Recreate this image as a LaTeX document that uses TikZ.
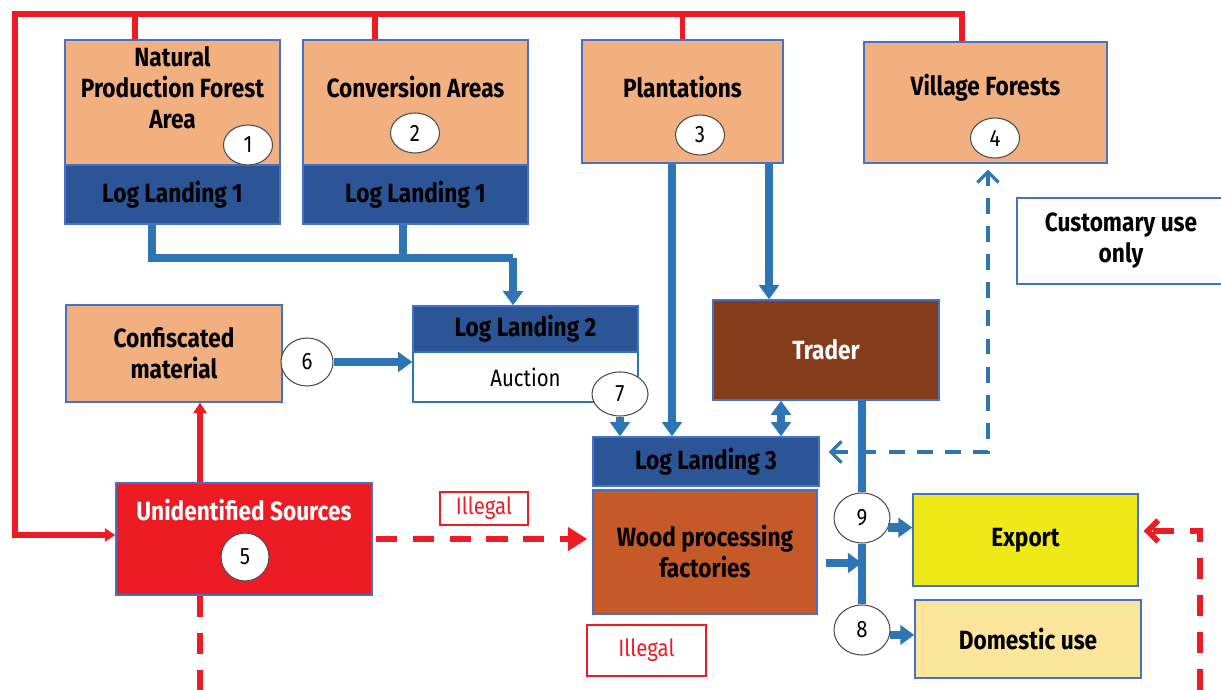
\documentclass[tikz,border=0pt]{standalone}
\usepackage{fontspec}
\setmainfont{Fira Sans}[FakeStretch=0.86]
\usetikzlibrary{shapes.geometric,arrows.meta}

\definecolor{srcfill}{RGB}{242,175,128}
\definecolor{landfill}{RGB}{43,85,151}
\definecolor{flowblue}{RGB}{46,117,182}
\definecolor{illred}{RGB}{237,28,36}
\definecolor{traderfill}{RGB}{132,60,26}
\definecolor{woodfill}{RGB}{197,90,40}
\definecolor{exportfill}{RGB}{240,233,26}
\definecolor{domfill}{RGB}{251,229,155}
\definecolor{edgeblue}{RGB}{68,114,196}

\newcommand{\lblfont}{\fontsize{15}{17.6}\selectfont\bfseries}
\newcommand{\numfont}{\fontsize{13.5}{15}\selectfont}

\begin{document}
\begin{tikzpicture}[
    srcbox/.style={draw=edgeblue,fill=srcfill,line width=0.8pt,align=center,font=\lblfont},
    landbox/.style={draw=edgeblue,fill=landfill,line width=0.8pt,font=\lblfont},
    plainbox/.style={draw=edgeblue,line width=0.8pt,align=center,font=\lblfont},
    title/.style={align=center,font=\lblfont,inner sep=0pt},
    num/.style={draw=black!70,fill=white,ellipse,line width=0.6pt,inner sep=0pt,minimum width=0.98cm,minimum height=0.8cm,font=\numfont},
    blueline/.style={draw=flowblue,line width=5pt},
    bluearrow/.style={blueline,-{Triangle[length=8pt,width=11pt]}},
    bluedash/.style={draw=flowblue,line width=1.8pt,dash pattern=on 9pt off 7pt},
    redline/.style={draw=illred,line width=3.2pt},
    reddash/.style={draw=illred,line width=3.2pt,dash pattern=on 12pt off 9pt},
    illegal/.style={draw=illred,line width=1pt,text=illred,font=\numfont,inner sep=0pt}
]
\useasboundingbox (0,0) rectangle (24.42,13.8);

% sources
\node[srcbox,minimum width=4.3cm,minimum height=2.5cm] (nat) at (3.45,11.75) {};
\node[landbox,minimum width=4.3cm,minimum height=1.18cm] (lla) at (3.45,9.91) {Log Landing 1};
\node[title] (natT) at (3.45,12.04) {Natural\\Production Forest\\Area};
\node[num] (n1) at (4.96,10.9) {1};

\node[srcbox,minimum width=4.5cm,minimum height=2.5cm] (conv) at (8.31,11.75) {};
\node[landbox,minimum width=4.5cm,minimum height=1.18cm] (llb) at (8.31,9.91) {Log Landing 1};
\node[title] (convT) at (8.31,12.06) {Conversion Areas};
\node[num] (n2) at (8.3,11.14) {2};

\node[srcbox,minimum width=4.02cm,minimum height=2.46cm] (plant) at (13.65,11.77) {};
\node[title] (plantT) at (13.65,12.06) {Plantations};
\node[num] (n3) at (14.0,11.1) {3};

\node[srcbox,minimum width=4.86cm,minimum height=2.42cm] (vil) at (19.71,11.75) {};
\node[title] (vilT) at (19.71,12.04) {Village Forests};
\node[num] (n4) at (19.9,11.04) {4};

\node[plainbox,minimum width=4.16cm,minimum height=1.72cm] (cust) at (22.42,8.98) {Customary use\\only};

% middle row
\node[srcbox,minimum width=4.32cm,minimum height=1.94cm] (conf) at (3.48,6.73) {Confiscated\\material};
\node[num,minimum width=1.04cm,minimum height=0.96cm] (n6) at (6.14,6.56) {6};
\node[landbox,minimum width=4.5cm,minimum height=0.92cm] (ll2) at (10.51,7.22) {Log Landing 2};
\node[draw=flowblue,fill=white,line width=0.8pt,minimum width=4.5cm,minimum height=1.0cm,font=\numfont] (auc) at (10.51,6.26) {Auction};
\node[num,minimum width=1.12cm,minimum height=0.88cm] (n7) at (12.4,5.92) {7};
\node[plainbox,fill=traderfill,text=white,minimum width=4.52cm,minimum height=2.0cm] (trader) at (16.52,6.8) {Trader};

% processing and use
\node[landbox,minimum width=4.52cm,minimum height=0.98cm] (ll3) at (14.12,4.57) {Log Landing 3};
\node[plainbox,fill=woodfill,minimum width=4.48cm,minimum height=2.48cm] (wood) at (14.1,2.76) {Wood processing\\factories};
\node[plainbox,fill=exportfill,minimum width=4.5cm,minimum height=1.84cm] (export) at (20.51,3.0) {Export};
\node[plainbox,fill=domfill,minimum width=4.52cm,minimum height=1.56cm] (dom) at (20.56,1.02) {Domestic use};
\node[num,minimum width=1.12cm,minimum height=1.0cm] (n9) at (17.24,3.44) {9};
\node[num,minimum width=1.12cm,minimum height=1.0cm] (n8) at (17.24,1.2) {8};

\node[plainbox,fill=illred,minimum width=5.12cm,minimum height=2.24cm] (unid) at (4.88,3.02) {};
\node[title,text=white] (unidT) at (4.88,3.6) {Unidentified Sources};
\node[num,circle,minimum size=0.96cm] (n5) at (4.9,2.66) {5};

\node[illegal,minimum width=1.76cm,minimum height=0.66cm] (ill1) at (9.68,3.63) {Illegal};
\node[illegal,minimum width=2.38cm,minimum height=1.02cm] (ill2) at (12.93,0.79) {Illegal};

\coordinate (topL) at (0.3,13.52);
\coordinate (join) at (10.26,8.64);
\coordinate (bot) at (0,0);
\coordinate (rbot) at (24.0,0);

% red supply lines
\draw[redline,-{Triangle[length=6pt,width=7.5pt]}] ([xshift=-0.47cm]vil.north) |- (topL) |- ([yshift=0.08cm]unid.west);
\draw[redline] ([xshift=-0.75cm]nat.north) -- ([xshift=-0.75cm]nat.north |- topL);
\draw[redline] ([xshift=-0.81cm]conv.north) -- ([xshift=-0.81cm]conv.north |- topL);
\draw[redline] (plant.north) -- (plant.north |- topL);
\draw[redline,-{Triangle[length=6pt,width=7.5pt]}] ([xshift=-0.88cm]unid.north) -- ([xshift=-0.88cm]unid.north |- conf.south);
\draw[reddash] ([xshift=-0.88cm]unid.south) -- ([xshift=-0.88cm]unid.south |- bot);
\draw[reddash,-{Triangle[length=11pt,width=13pt]}] ([xshift=0.06cm]unid.east) -- ([xshift=-0.1cm]unid.east -| wood.west);
\draw[reddash,-{Straight Barb[length=6pt,width=12pt]}] (rbot) |- ([xshift=0.1cm,yshift=0.18cm]export.east);

% blue log flows
\draw[blueline] ([xshift=-0.41cm]lla.south) |- (join);
\draw[blueline] ([xshift=-0.25cm]llb.south) |- (join);
\draw[bluearrow] (join) -- (join |- ll2.north);
\draw[bluearrow] (n6) -- (n6 -| auc.west);
\draw[bluearrow] (n7.south) -- (n7.south |- ll3.north);
\draw[bluearrow] ([xshift=-0.21cm]plant.south) -- ([xshift=-0.21cm]plant.south |- ll3.north);
\draw[bluearrow] ([xshift=1.73cm]plant.south) -- ([xshift=1.73cm]plant.south |- trader.north);
\draw[bluearrow,{Triangle[length=8pt,width=11pt]}-{Triangle[length=8pt,width=11pt]}] ([xshift=-0.9cm]trader.south) -- ([xshift=-0.9cm]trader.south |- ll3.north);
\draw[blueline] ([xshift=0.72cm]trader.south) -- (n9.north);
\draw[blueline] (n9.south) -- (n8.north);
\draw[bluearrow] ([xshift=0.16cm,yshift=-0.22cm]wood.east) -- ([yshift=-0.22cm]wood.east -| n9);
\draw[bluearrow] (n9.-20) -- (n9.-20 -| export.west);
\draw[bluearrow] (n8.-10) -- (n8.-10 -| dom.west);
\draw[bluedash,{Straight Barb[length=6pt,width=12pt]}-{Straight Barb[length=6pt,width=12pt]}] ([xshift=0.18cm,yshift=0.19cm]ll3.east) -| ([xshift=0.05cm,yshift=-0.12cm]vil.south);

\end{tikzpicture}
\end{document}
